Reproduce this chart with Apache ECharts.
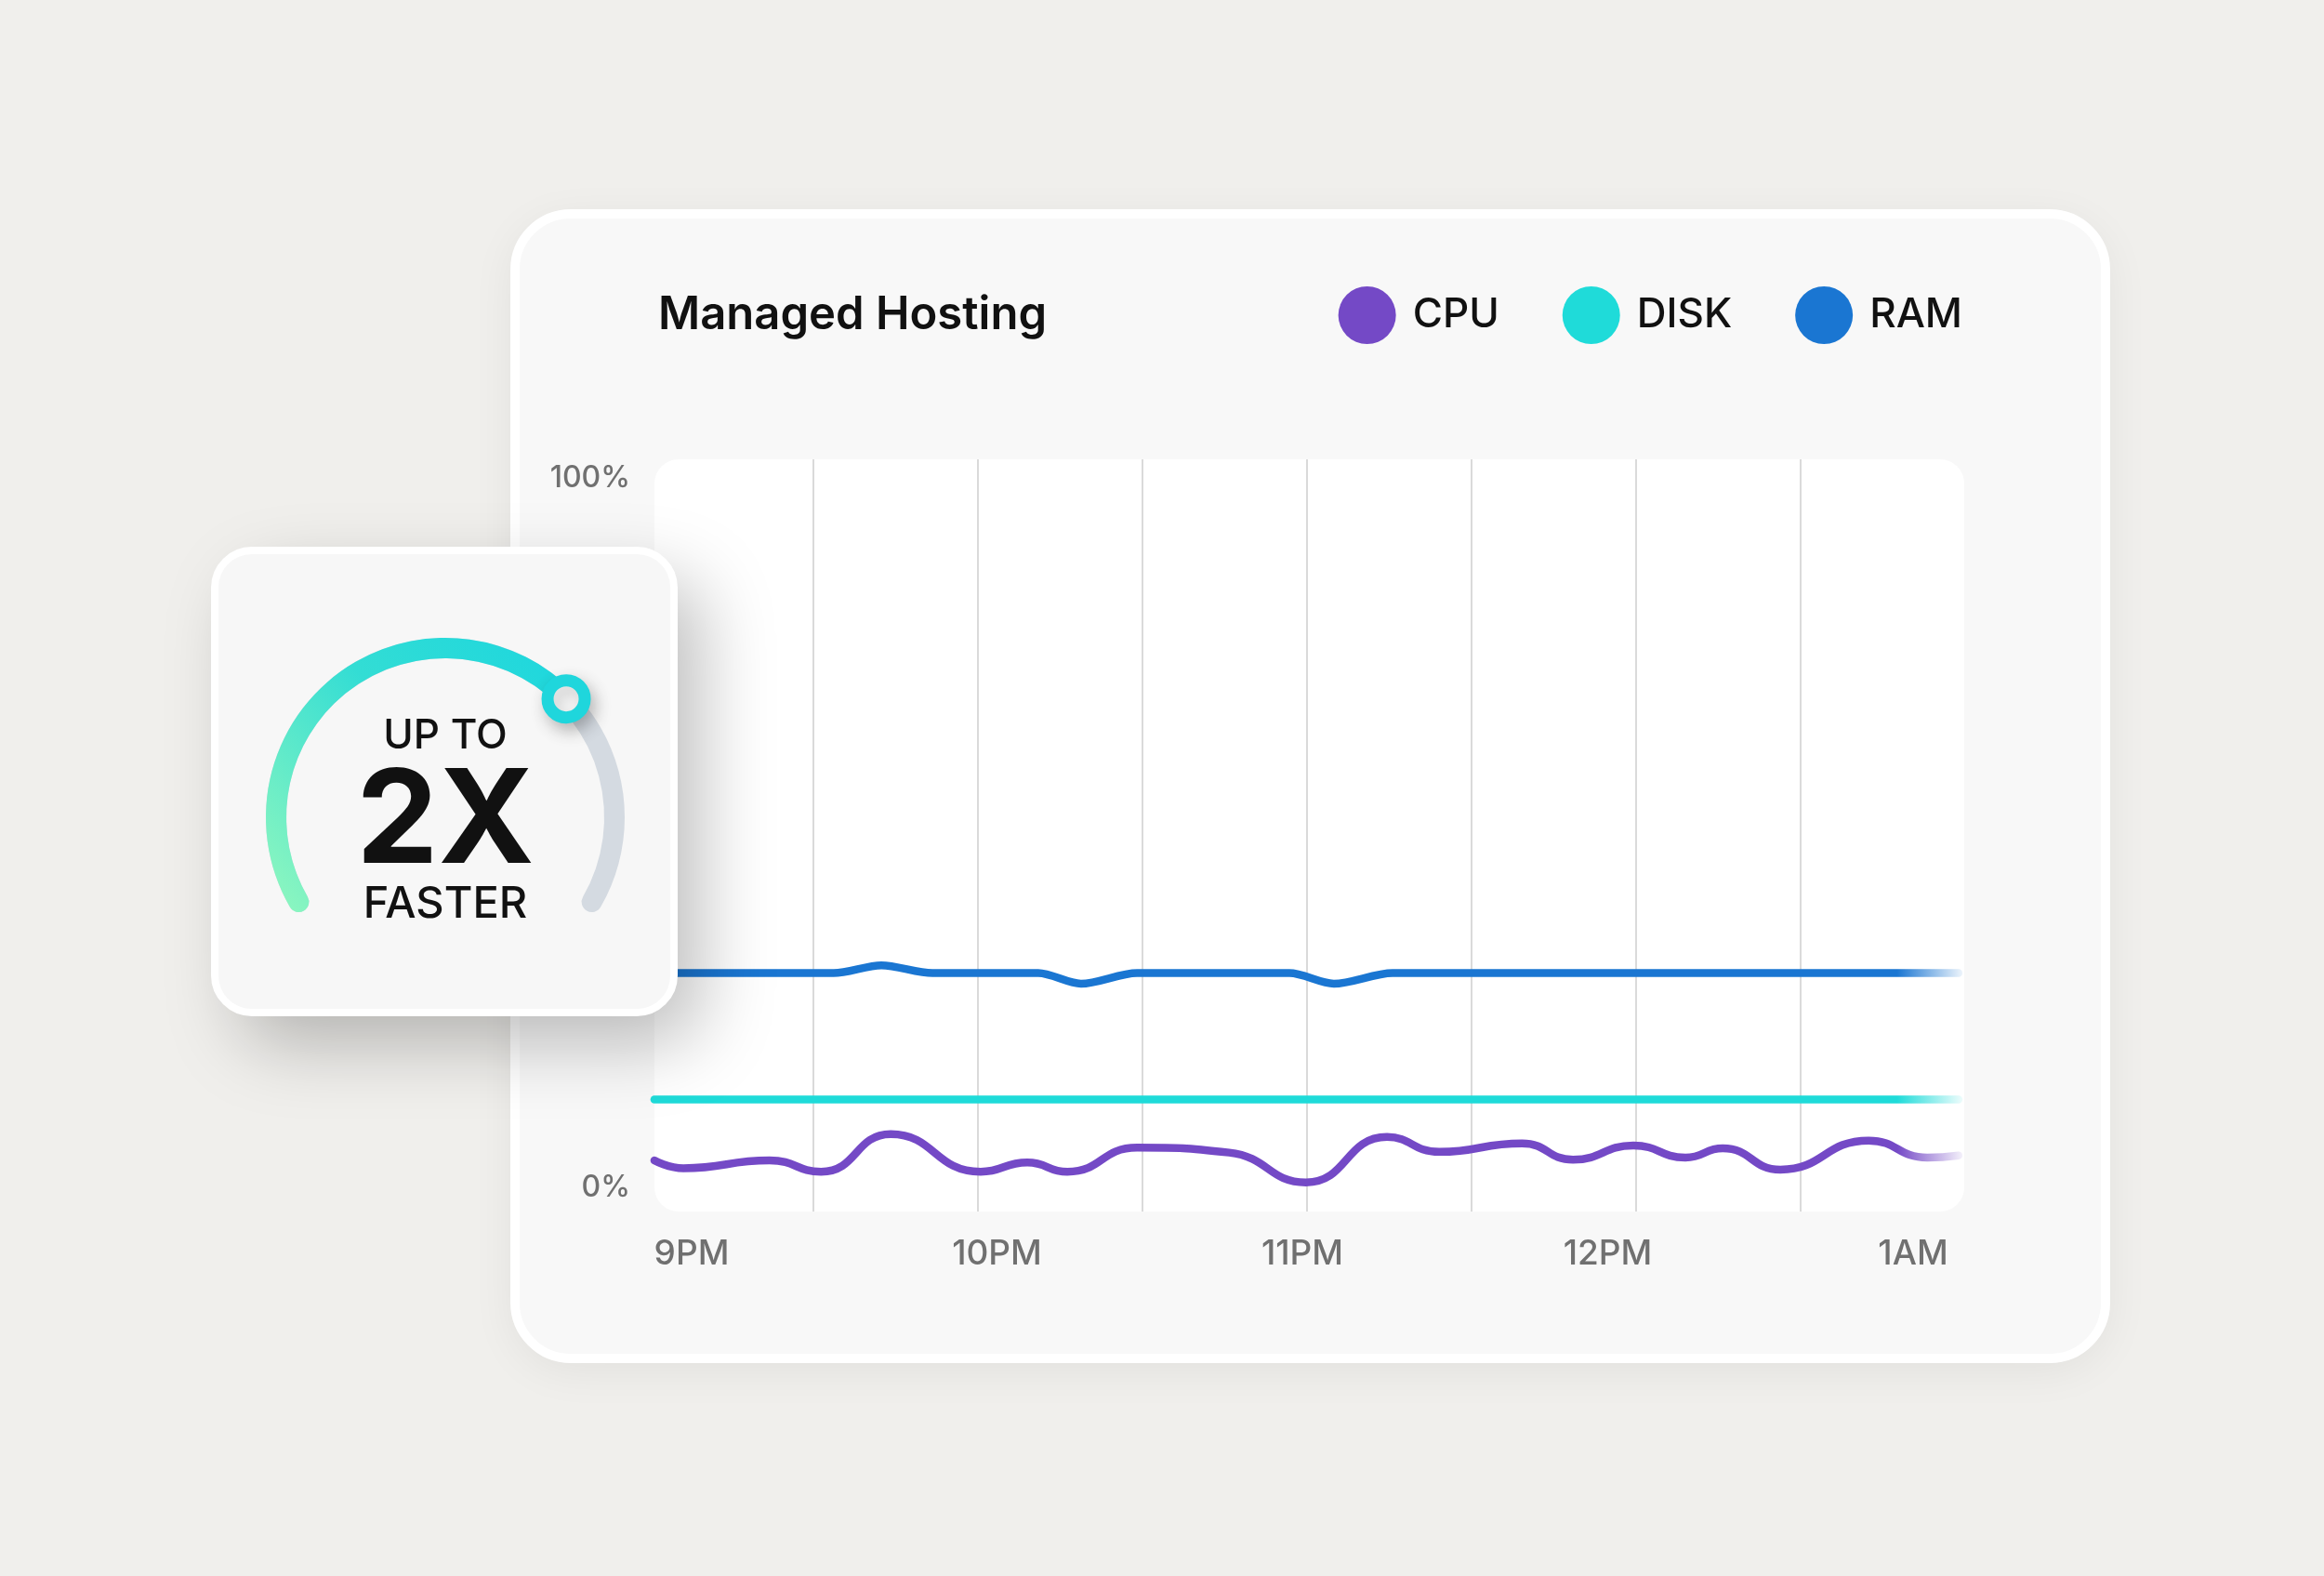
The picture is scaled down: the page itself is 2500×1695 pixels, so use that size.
<!DOCTYPE html>
<html>
<head>
<meta charset="utf-8">
<title>Managed Hosting</title>
<script src="https://cdn.jsdelivr.net/npm/echarts@6/dist/echarts.min.js"></script>
<style>
  html, body { margin: 0; padding: 0; background: #f0efec; }
  #chart { width: 2500px; height: 1695px; }
</style>
</head>
<body>
<div id="chart"></div>
<script>
// ---- data (minutes after 9PM, percent) ----
const SERIES_NAMES = ['CPU', 'DISK', 'RAM'];
const TIME_LABELS = ['9PM', '10PM', '11PM', '12PM', '1AM'];
const GRID_COLUMNS = ['', '', '', '', '', '', '', '', ''];   // 8 bands of 30 min

const CPU = [
  [1, 3.8], [6.3, 2.7], [22, 3.8], [31.4, 2.2], [44.1, 7.5], [60.5, 2.2],
  [69, 3.5], [76.3, 2.2], [89, 5.6], [105.8, 4.9], [119.8, 0.7], [134.6, 7.1],
  [144.1, 5.0], [159.2, 6.2], [168.5, 3.9], [179.5, 5.9], [189, 4.2], [195.8, 5.5],
  [206.3, 2.5], [222.4, 6.6], [233.1, 4.2], [238.8, 4.5]
];
const DISK = [[1, 12.4], [238.8, 12.4]];
const RAM = [
  [1, 30.2], [33.7, 30.2], [42.4, 31.3], [51.7, 30.2], [71, 30.2], [78.8, 28.7],
  [89, 30.2], [116.8, 30.2], [124.9, 28.7], [135.6, 30.2], [238.8, 30.2]
];
const GAUGE_VALUE = 69;      // knob position on the speed dial

const COLORS = { CPU: '#7449c6', DISK: '#1fdbd9', RAM: '#1a76d2' };
const FONT = 'Inter, "Noto Sans", sans-serif';

const chart = echarts.init(document.getElementById('chart'), null, { renderer: 'canvas' });

// line colour that fades out at the right edge
function fadeLine(c) {
  return new echarts.graphic.LinearGradient(0, 0, 1, 0, [
    { offset: 0, color: c },
    { offset: 0.95, color: c },
    { offset: 1, color: echarts.color.modifyAlpha(c, 0.08) }
  ]);
}

function lineSeries(name, data, smooth) {
  return {
    name, type: 'line', xAxisIndex: 1, yAxisIndex: 1, data,
    smooth, showSymbol: false, symbol: 'none', z: 3,
    color: COLORS[name],
    lineStyle: { width: 8.5, color: fadeLine(COLORS[name]), cap: 'round' },
    emphasis: { disabled: true }
  };
}

// shared dial geometry for the gauge + its knob
const DIAL = { center: [479, 879], radius: 193, startAngle: 210, endAngle: -30, min: 0, max: 100 };
const HIDE = { show: false };

chart.setOption({
  backgroundColor: '#f0efec',
  animation: false,
  title: {
    text: 'Managed Hosting', left: 703, top: 310,
    textStyle: { fontFamily: FONT, fontSize: 49, fontWeight: 600, color: '#111' }
  },
  legend: {
    data: SERIES_NAMES, right: 384, top: 303, icon: 'circle',
    itemWidth: 62, itemHeight: 62, itemGap: 68, selectedMode: false,
    textStyle: { fontFamily: FONT, fontSize: 44, fontWeight: 500, color: '#111', padding: [0, 0, 0, 13] }
  },
  graphic: [
    // main card: shadow layer, then face
    { type: 'rect', z: -21, shape: { x: 554, y: 230, width: 1711, height: 1231, r: 60 },
      style: { fill: '#f8f8f8', shadowBlur: 50, shadowColor: 'rgba(0,0,0,0.07)', shadowOffsetY: 10 } },
    { type: 'rect', z: -20, shape: { x: 554, y: 230, width: 1711, height: 1231, r: 60 },
      style: { fill: '#f8f8f8', stroke: '#ffffff', lineWidth: 10 } },
    { type: 'rect', z: -10, shape: { x: 704, y: 494, width: 1409, height: 809, r: 26 },
      style: { fill: '#ffffff' } },
    // gauge card
    { type: 'rect', z: 7, shape: { x: 231, y: 592, width: 494, height: 497, r: 40 },
      style: { fill: '#f7f7f7', shadowBlur: 80, shadowColor: 'rgba(0,0,0,0.26)', shadowOffsetX: 28, shadowOffsetY: 32 } },
    { type: 'rect', z: 8, shape: { x: 231, y: 592, width: 494, height: 497, r: 40 },
      style: { fill: '#f7f7f7', stroke: '#ffffff', lineWidth: 8 } }
  ],
  grid: [
    { left: 698, right: 386, top: 494, bottom: 392 },   // column rules
    { left: 698, right: 386, top: 514, bottom: 418 },   // data
    { left: 744, right: 442, top: 494, bottom: 392 }    // time labels
  ],
  xAxis: [
    { gridIndex: 0, type: 'category', data: GRID_COLUMNS, boundaryGap: false,
      axisLine: HIDE, axisTick: HIDE, axisLabel: HIDE,
      splitLine: { show: true, interval: i => i > 0 && i < GRID_COLUMNS.length - 1,
        lineStyle: { color: '#dadada', width: 2 } } },
    { gridIndex: 1, type: 'value', min: 0, max: 240, show: false },
    { gridIndex: 2, type: 'category', data: TIME_LABELS, boundaryGap: false,
      axisLine: HIDE, axisTick: HIDE, splitLine: HIDE,
      axisLabel: { interval: 0, margin: 27, fontFamily: FONT, fontSize: 37, fontWeight: 500, color: '#707070' } }
  ],
  yAxis: [
    { gridIndex: 0, type: 'value', min: 0, max: 1, show: false },
    { gridIndex: 1, type: 'value', min: 0, max: 100, interval: 100,
      axisLine: HIDE, axisTick: HIDE, splitLine: HIDE,
      axisLabel: { formatter: '{value}%', margin: 20, fontFamily: FONT, fontSize: 32, fontWeight: 500, color: '#707070' } },
    { gridIndex: 2, type: 'value', show: false }
  ],
  series: [
    lineSeries('CPU', CPU, 0.5),
    lineSeries('DISK', DISK, false),
    lineSeries('RAM', RAM, 0.3),
    Object.assign({}, DIAL, {
      type: 'gauge', z: 10,
      axisLine: { roundCap: true, lineStyle: { width: 22, color: [[1, '#d4dae1']] } },
      progress: { show: true, width: 22, roundCap: true,
        itemStyle: { color: new echarts.graphic.LinearGradient(0, 1, 1, 0, [
          { offset: 0, color: '#92f8be' }, { offset: 0.55, color: '#33ddd4' }, { offset: 1, color: '#1bd6df' }
        ]) } },
      pointer: HIDE, anchor: HIDE, axisTick: HIDE, splitLine: HIDE, axisLabel: HIDE, title: HIDE,
      detail: {
        show: true, offsetCenter: [0, -1], color: '#111',
        formatter: () => '{a|UP TO}\n{b|2X}\n{c|FASTER}',
        rich: {
          a: { fontFamily: FONT, fontSize: 44, fontWeight: 500, lineHeight: 64, color: '#111' },
          b: { fontFamily: FONT, fontSize: 140, fontWeight: 700, lineHeight: 125, color: '#111' },
          c: { fontFamily: FONT, fontSize: 47, fontWeight: 500, lineHeight: 48, color: '#111' }
        }
      },
      data: [{ value: GAUGE_VALUE }]
    }),
    // knob drawn above the progress cap
    Object.assign({}, DIAL, {
      type: 'gauge', z: 12,
      axisLine: HIDE, progress: HIDE, anchor: HIDE, axisTick: HIDE, splitLine: HIDE,
      axisLabel: HIDE, title: HIDE, detail: HIDE,
      pointer: { show: true, icon: 'circle', width: 40, length: 40, offsetCenter: [0, -162],
        itemStyle: { color: '#ffffff', borderColor: '#1fd6dc', borderWidth: 13,
          shadowBlur: 18, shadowColor: 'rgba(0,0,0,0.22)', shadowOffsetX: 5, shadowOffsetY: 8 } },
      data: [{ value: GAUGE_VALUE }]
    })
  ]
});
</script>
</body>
</html>
